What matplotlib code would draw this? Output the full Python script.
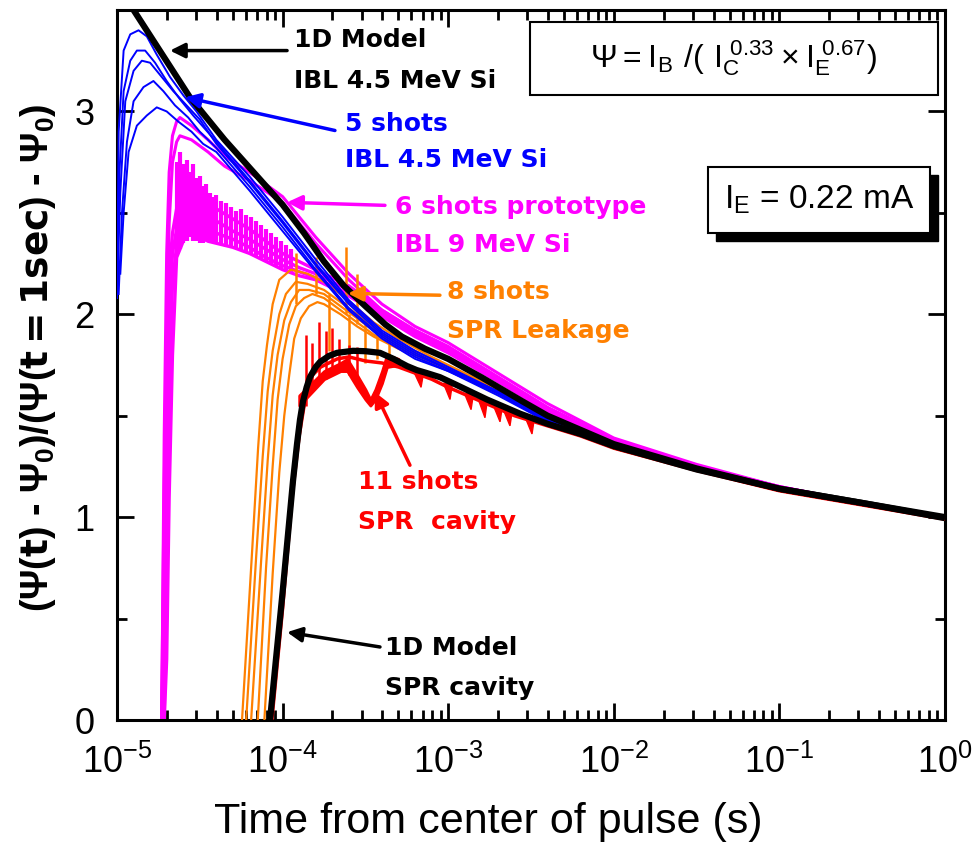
import matplotlib
matplotlib.use('Agg')
import matplotlib.pyplot as plt
import numpy as np
from matplotlib.patches import Rectangle

plt.rcParams['font.family'] = ['Liberation Sans', 'DejaVu Sans']
plt.rcParams['mathtext.default'] = 'regular'

# all times are given as log10(t / s)
# 1D model, IBL 4.5 MeV Si
ibl_lt = [-5.0, -4.9, -4.56, -4.35, -4.0, -3.87, -3.75, -3.63, -3.5, -3.38, -3.28, -3.14, -3.0, -2.8,
          -2.55, -2.4, -2.2, -2.0, -1.75, -1.5, -1.25, -1.0, -0.5, 0.0]
ibl_y = [3.6, 3.5, 3.07, 2.86, 2.54, 2.4, 2.26, 2.14, 2.04, 1.95, 1.89, 1.83, 1.78, 1.69,
         1.57, 1.5, 1.43, 1.36, 1.3, 1.24, 1.19, 1.14, 1.07, 1.0]

# 1D model, SPR cavity
spr_lt = [-4.076, -4.04, -4.0, -3.96, -3.937, -3.913, -3.895, -3.877, -3.855, -3.835, -3.8, -3.774, -3.72,
          -3.671, -3.575, -3.5, -3.412, -3.33, -3.249, -3.19, -3.128, -3.05, -2.971, -2.766, -2.566,
          -2.4, -2.2, -2.0, -1.5, -1.0, -0.5, 0.0]
spr_y = [0.0, 0.3, 0.63, 0.98, 1.18, 1.36, 1.48, 1.57, 1.64, 1.69, 1.74, 1.765, 1.795,
         1.81, 1.82, 1.818, 1.81, 1.78, 1.745, 1.725, 1.71, 1.69, 1.66, 1.58, 1.51,
         1.46, 1.41, 1.35, 1.235, 1.14, 1.07, 0.995]

# 5 shots IBL 4.5 MeV Si (blue)
blue_tail_lt = [-4.2, -4.0, -3.8, -3.6, -3.4, -3.2, -3.0, -2.7, -2.4, -2.0, -1.5, -1.0, -0.5, 0.0]
blue_head_lt = [
    [-5.0, -4.99, -4.96, -4.92, -4.87, -4.82, -4.76, -4.68, -4.6, -4.52, -4.4],
    [-5.0, -4.98, -4.95, -4.9, -4.85, -4.8, -4.74, -4.66, -4.58, -4.5, -4.4],
    [-4.99, -4.97, -4.94, -4.9, -4.84, -4.78, -4.72, -4.65, -4.57, -4.5, -4.4],
    [-4.98, -4.96, -4.93, -4.88, -4.82, -4.76, -4.7, -4.63, -4.55, -4.48, -4.4],
    [-5.0, -4.985, -4.96, -4.92, -4.88, -4.83, -4.77, -4.7, -4.62, -4.54, -4.4],
]
blue_head_y = [
    [2.08, 2.9, 3.3, 3.38, 3.40, 3.37, 3.28, 3.17, 3.08, 3.0, 2.86],
    [2.1, 2.6, 3.05, 3.2, 3.25, 3.24, 3.18, 3.1, 3.03, 2.96, 2.84],
    [2.1, 2.5, 2.85, 3.05, 3.12, 3.15, 3.1, 3.03, 2.97, 2.9, 2.82],
    [2.2, 2.5, 2.8, 2.93, 2.98, 3.02, 3.0, 2.95, 2.9, 2.84, 2.8],
    [2.1, 2.7, 3.1, 3.25, 3.3, 3.3, 3.24, 3.15, 3.06, 2.98, 2.85],
]
blue_tail_y = [
    [2.68, 2.48, 2.27, 2.07, 1.92, 1.82, 1.74, 1.62, 1.48, 1.35, 1.23, 1.13, 1.06, 0.995],
    [2.65, 2.45, 2.24, 2.05, 1.90, 1.80, 1.73, 1.61, 1.48, 1.35, 1.23, 1.13, 1.06, 0.995],
    [2.63, 2.43, 2.22, 2.03, 1.89, 1.79, 1.72, 1.61, 1.47, 1.35, 1.23, 1.13, 1.06, 0.995],
    [2.61, 2.41, 2.21, 2.02, 1.88, 1.78, 1.72, 1.60, 1.47, 1.35, 1.23, 1.13, 1.06, 0.995],
    [2.66, 2.46, 2.25, 2.06, 1.91, 1.81, 1.73, 1.62, 1.48, 1.35, 1.23, 1.13, 1.06, 0.995],
]

# 6 shots prototype IBL 9 MeV Si (magenta)
mag_tail_lt = [-3.4, -3.2, -3.0, -2.7, -2.4, -2.0, -1.5, -1.0, -0.5, 0.0]
mag_up_lt = [-4.73, -4.715, -4.70, -4.685, -4.665, -4.64, -4.62, -4.55, -4.45, -4.35, -4.2, -4.0, -3.8, -3.6]
mag_up_y = [
    [0.0, 1.4, 2.3, 2.7, 2.88, 2.95, 2.97, 2.93, 2.86, 2.78, 2.7, 2.58, 2.38, 2.2],
    [0.0, 0.9, 1.9, 2.45, 2.75, 2.85, 2.88, 2.86, 2.8, 2.73, 2.66, 2.55, 2.35, 2.17],
]
mag_up_tail = [
    [2.05, 1.94, 1.86, 1.71, 1.56, 1.39, 1.26, 1.15, 1.07, 1.0],
    [2.02, 1.92, 1.84, 1.69, 1.54, 1.38, 1.25, 1.15, 1.07, 1.0],
]
mag_lo_lt = [-4.73, -4.715, -4.70, -4.685, -4.665, -4.64, -4.6, -4.56, -4.5, -4.45, -4.4, -4.3, -4.2,
             -4.1, -4.0, -3.9, -3.8, -3.7, -3.6]
mag_lo_y = [
    [0.0, 1.1, 1.9, 2.2, 2.4, 2.52, 2.62, 2.66, 2.62, 2.56, 2.52, 2.47, 2.42, 2.36, 2.3, 2.26, 2.22, 2.18, 2.14],
    [0.0, 0.5, 1.4, 1.95, 2.3, 2.42, 2.5, 2.56, 2.52, 2.48, 2.46, 2.41, 2.37, 2.32, 2.27, 2.23, 2.2, 2.16, 2.12],
    [0.0, 0.0, 0.8, 1.6, 2.15, 2.34, 2.42, 2.48, 2.44, 2.42, 2.4, 2.37, 2.33, 2.28, 2.24, 2.21, 2.18, 2.14, 2.1],
    [0.0, 0.0, 0.3, 1.1, 1.8, 2.28, 2.36, 2.42, 2.38, 2.36, 2.35, 2.33, 2.3, 2.26, 2.22, 2.19, 2.17, 2.13, 2.09],
]
mag_lo_tail = [
    [2.02, 1.92, 1.84, 1.69, 1.54, 1.38, 1.25, 1.15, 1.07, 1.0],
    [2.01, 1.91, 1.83, 1.68, 1.53, 1.37, 1.25, 1.15, 1.07, 1.0],
    [2.0, 1.9, 1.82, 1.67, 1.53, 1.37, 1.24, 1.14, 1.07, 1.0],
    [1.99, 1.89, 1.81, 1.67, 1.52, 1.37, 1.24, 1.14, 1.07, 1.0],
]
mag_spk_lt = [-4.64, -4.62, -4.60, -4.58, -4.56, -4.54, -4.52, -4.50, -4.48, -4.46, -4.44, -4.42, -4.40, -4.37,
              -4.34, -4.31, -4.28, -4.25, -4.22, -4.19, -4.16, -4.13, -4.10, -4.07, -4.04, -4.01, -3.98, -3.95]
mag_spk_lo = [2.3, 2.32, 2.35, 2.36, 2.38, 2.36, 2.36, 2.35, 2.35, 2.36, 2.36, 2.35, 2.35, 2.34,
              2.33, 2.33, 2.32, 2.31, 2.3, 2.29, 2.28, 2.27, 2.26, 2.25, 2.24, 2.23, 2.22, 2.21]
mag_spk_hi = [2.75, 2.8, 2.74, 2.76, 2.7, 2.74, 2.67, 2.68, 2.63, 2.64, 2.6, 2.58, 2.59, 2.56,
              2.55, 2.53, 2.51, 2.52, 2.49, 2.48, 2.46, 2.44, 2.42, 2.4, 2.38, 2.36, 2.34, 2.32]

# 8 shots SPR leakage (orange)
or_tail_lt = [-3.75, -3.65, -3.55, -3.45, -3.3, -3.1, -2.9, -2.7, -2.4, -2.0, -1.5, -1.0, -0.5, 0.0]
or_head_lt = [
    [-4.245, -4.185, -4.148, -4.12, -4.094, -4.06, -4.02, -3.95, -3.85],
    [-4.22, -4.16, -4.12, -4.09, -4.06, -4.02, -3.98, -3.92, -3.85],
    [-4.19, -4.13, -4.09, -4.06, -4.03, -3.99, -3.95, -3.9, -3.84],
    [-4.15, -4.1, -4.06, -4.03, -4.0, -3.96, -3.92, -3.87, -3.82],
    [-4.11, -4.06, -4.02, -3.99, -3.96, -3.93, -3.89, -3.84, -3.79],
]
or_head_y = [
    [0.0, 0.82, 1.34, 1.67, 1.85, 2.05, 2.17, 2.22, 2.2],
    [0.0, 0.8, 1.3, 1.62, 1.82, 2.0, 2.1, 2.16, 2.15],
    [0.0, 0.78, 1.28, 1.6, 1.8, 1.97, 2.06, 2.12, 2.12],
    [0.0, 0.75, 1.25, 1.58, 1.78, 1.95, 2.04, 2.08, 2.1],
    [0.0, 0.72, 1.22, 1.5, 1.7, 1.88, 1.98, 2.04, 2.06],
]
or_tail_y = [
    [2.16, 2.1, 2.03, 1.96, 1.88, 1.79, 1.71, 1.63, 1.49, 1.34, 1.23, 1.13, 1.06, 0.99],
    [2.12, 2.06, 2.0, 1.93, 1.86, 1.78, 1.7, 1.62, 1.49, 1.34, 1.23, 1.13, 1.06, 0.99],
    [2.1, 2.04, 1.98, 1.92, 1.85, 1.77, 1.7, 1.62, 1.48, 1.34, 1.23, 1.13, 1.06, 0.99],
    [2.08, 2.02, 1.96, 1.9, 1.84, 1.77, 1.69, 1.62, 1.48, 1.34, 1.23, 1.13, 1.06, 0.99],
    [2.05, 2.0, 1.94, 1.89, 1.83, 1.76, 1.69, 1.61, 1.48, 1.34, 1.23, 1.13, 1.06, 0.99],
]
or_spk_lt = [-3.92, -3.8, -3.62, -3.55, -3.72, -3.6, -3.5, -3.43, -3.36]
or_spk_lo = [2.05, 2.1, 2.0, 1.95, 1.82, 1.8, 1.76, 1.78, 1.76]
or_spk_hi = [2.3, 2.28, 2.33, 2.2, 2.1, 2.0, 1.95, 1.9, 1.86]

# 11 shots SPR cavity (red)
red_lt = [-4.065, -4.0, -3.94, -3.9, -3.86, -3.82, -3.77, -3.72, -3.67, -3.6, -3.5, -3.4, -3.3, -3.2,
          -3.1, -3.0, -2.8, -2.6, -2.4, -2.2, -2.0, -1.5, -1.0, -0.5, 0.0]
red_y = [0.0, 0.55, 1.12, 1.4, 1.6, 1.7, 1.74, 1.76, 1.78, 1.79, 1.77, 1.76, 1.74, 1.71,
         1.68, 1.64, 1.57, 1.5, 1.45, 1.4, 1.34, 1.23, 1.13, 1.06, 0.99]
red_v_lt = [-3.9, -3.75, -3.65, -3.61, -3.55, -3.5, -3.47, -3.44, -3.4, -3.37, -3.3]
red_v_y = [
    [1.6, 1.72, 1.76, 1.78, 1.7, 1.63, 1.58, 1.63, 1.72, 1.8, 1.78],
    [1.55, 1.68, 1.72, 1.72, 1.64, 1.58, 1.55, 1.58, 1.66, 1.74, 1.75],
]
red_spk_lt = [-3.86, -3.82, -3.78, -3.74, -3.7, -3.66, -3.6, -3.55]
red_spk_lo = [1.55, 1.62, 1.66, 1.68, 1.7, 1.72, 1.7, 1.65]
red_spk_hi = [1.9, 1.86, 1.96, 1.92, 1.93, 1.88, 1.85, 1.84]
red_notch_lt = [-3.164, -2.989, -2.862, -2.778, -2.687, -2.627, -2.494]
red_notch_top = [1.71, 1.66, 1.61, 1.58, 1.55, 1.53, 1.49]
red_notch_bot = [1.64, 1.58, 1.53, 1.49, 1.47, 1.45, 1.41]

# labels: text, colour, (log t, y) of the two lines, arrow tip and tail
labels = [
    ('1D Model', 'IBL 4.5 MeV Si', 'black', -3.93, 3.35, 3.15, (-4.68, 3.30), (-3.973, 3.30)),
    ('5 shots', 'IBL 4.5 MeV Si', '#0000ff', -3.623, 2.94, 2.76, (-4.589, 3.07), (-3.684, 2.906)),
    ('6 shots prototype', 'IBL 9 MeV Si', '#ff00ff', -3.32, 2.527, 2.34, (-3.973, 2.552), (-3.382, 2.537)),
    ('8 shots', 'SPR Leakage', '#ff8000', -3.007, 2.108, 1.92, (-3.605, 2.103), (-3.05, 2.094)),
    ('11 shots', 'SPR  cavity', '#ff0000', -3.545, 1.172, 0.975, (-3.442, 1.616), (-3.231, 1.256)),
    ('1D Model', 'SPR cavity', 'black', -3.382, 0.355, 0.158, (-3.973, 0.433), (-3.412, 0.36)),
]


def T(lt):
    return 10.0 ** np.asarray(lt)


fig = plt.figure(figsize=(9.77, 8.47), dpi=100)
ax = fig.add_axes([117 / 977, 127 / 847, 828 / 977, 710 / 847])

# magenta
for ly, lt_tail in zip(mag_up_y, mag_up_tail):
    ax.plot(T(mag_up_lt + mag_tail_lt), ly + lt_tail, color='#ff00ff', lw=2.2, zorder=2)
for ly, lt_tail in zip(mag_lo_y, mag_lo_tail):
    ax.plot(T(mag_lo_lt + mag_tail_lt), ly + lt_tail, color='#ff00ff', lw=2.4, zorder=2)
ax.vlines(T(mag_spk_lt), mag_spk_lo, mag_spk_hi, color='#ff00ff', lw=3, zorder=2)

# orange
for hl, hy, ty in zip(or_head_lt, or_head_y, or_tail_y):
    ax.plot(T(hl + or_tail_lt), hy + ty, color='#ff8000', lw=1.6, zorder=3)
ax.vlines(T(or_spk_lt), or_spk_lo, or_spk_hi, color='#ff8000', lw=1.8, zorder=3)

# blue
for hl, hy, ty in zip(blue_head_lt, blue_head_y, blue_tail_y):
    ax.plot(T(hl + blue_tail_lt), hy + ty, color='#0000ff', lw=1.4, zorder=4)

# red
ax.plot(T(red_lt), red_y, color='#ff0000', lw=2.5, zorder=5)
ax.fill_between(T(red_v_lt), red_v_y[1], red_v_y[0], color='#ff0000', lw=2, zorder=5)
ax.vlines(T(red_spk_lt), red_spk_lo, red_spk_hi, color='#ff0000', lw=1.8, zorder=5)
for lt, top, bot in zip(red_notch_lt, red_notch_top, red_notch_bot):
    ax.fill(T([lt - 0.04, lt, lt + 0.015]), [top, bot, top], color='#ff0000', lw=1, zorder=5)

# models
ax.plot(T(spr_lt), spr_y, color='black', lw=4.5, zorder=6, solid_capstyle='butt')
ax.plot(T(ibl_lt), ibl_y, color='black', lw=4.5, zorder=6, solid_capstyle='butt')

# labels and arrows
for l1, l2, col, lx, y1, y2, tip, tail in labels:
    ax.text(10 ** lx, y1, l1, color=col, fontsize=18, fontweight='bold', family='DejaVu Sans',
            va='center', ha='left', zorder=8)
    ax.text(10 ** lx, y2, l2, color=col, fontsize=18, fontweight='bold', family='DejaVu Sans',
            va='center', ha='left', zorder=8)
    ax.annotate('', xy=(10 ** tip[0], tip[1]), xytext=(10 ** tail[0], tail[1]),
                arrowprops=dict(arrowstyle='-|>', color=col, lw=2.5, mutation_scale=22,
                                shrinkA=0, shrinkB=0), zorder=8)

# formula boxes
ax.add_patch(Rectangle((0.499, 0.880), 0.492, 0.103, transform=ax.transAxes, fill=True,
                       facecolor='white', edgecolor='black', lw=1.5, zorder=9))
ax.text(0.745, 0.932, r'$\Psi = I_B\ /(\ I_C^{\ 0.33} \times I_E^{\ 0.67})$', transform=ax.transAxes,
        ha='center', va='center', fontsize=23, zorder=10)
ax.add_patch(Rectangle((0.724, 0.675), 0.268, 0.093, transform=ax.transAxes,
                       facecolor='black', edgecolor='black', lw=1, zorder=9))
ax.add_patch(Rectangle((0.714, 0.686), 0.268, 0.093, transform=ax.transAxes,
                       facecolor='white', edgecolor='black', lw=1.5, zorder=9))
ax.text(0.848, 0.733, r'$I_E$ = 0.22 mA', transform=ax.transAxes,
        ha='center', va='center', fontsize=24, zorder=10)

# axes
ax.set_xscale('log')
ax.set_xlim(1e-5, 1)
ax.set_ylim(0, 3.5)
ax.set_xticks([1e-5, 1e-4, 1e-3, 1e-2, 1e-1, 1])
ax.set_xticklabels([r'$10^{-5}$', r'$10^{-4}$', r'$10^{-3}$', r'$10^{-2}$', r'$10^{-1}$', r'$10^{0}$'])
ax.set_yticks([0, 1, 2, 3])
ax.set_yticks([0.5, 1.5, 2.5], minor=True)
ax.tick_params(which='both', direction='in', top=True, right=True, width=2, labelsize=26)
ax.tick_params(which='major', length=12)
ax.tick_params(which='minor', length=7)
ax.tick_params(axis='x', pad=18)
ax.tick_params(axis='y', pad=16)
for s in ax.spines.values():
    s.set_linewidth(2.2)

fig.text(0.4995, 0.03, 'Time from center of pulse (s)', ha='center', va='center', fontsize=31)
fig.text(0.039, 0.578, r'(Ψ($\mathbf{t}$) - Ψ$_0$)/(Ψ($\mathbf{t=1sec}$) - Ψ$_0$)',
         rotation=90, ha='center', va='center', fontsize=27, fontweight='bold')

fig.savefig('out.png', dpi=100)
